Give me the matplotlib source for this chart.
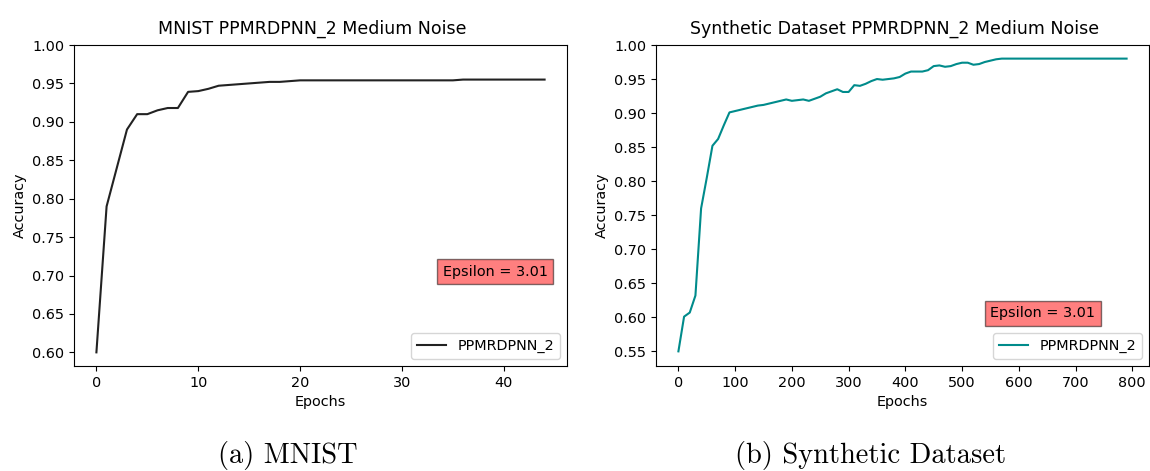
import matplotlib
matplotlib.use("Agg")
import matplotlib.pyplot as plt
from matplotlib.ticker import MultipleLocator, FormatStrFormatter
import numpy as np

# MNIST run, one value per epoch
mnist_epochs = list(range(45))
mnist_acc = [0.600, 0.790, 0.840, 0.890, 0.910, 0.910, 0.915, 0.918, 0.918, 0.939,
             0.940, 0.943, 0.947, 0.948, 0.949, 0.950, 0.951, 0.952, 0.952, 0.953,
             0.954, 0.954, 0.954, 0.954, 0.954, 0.954, 0.954, 0.954, 0.954, 0.954,
             0.954, 0.954, 0.954, 0.954, 0.954, 0.954, 0.955, 0.955, 0.955, 0.955,
             0.955, 0.955, 0.955, 0.955, 0.955]

# synthetic run, logged every 10 epochs
syn_epochs = list(range(0, 800, 10))
syn_acc = [0.550, 0.601, 0.607, 0.632, 0.760, 0.805, 0.852, 0.862, 0.882, 0.901,
           0.903, 0.905, 0.907, 0.909, 0.911, 0.912, 0.914, 0.916, 0.918, 0.920,
           0.918, 0.919, 0.920, 0.918, 0.921, 0.924, 0.929, 0.932, 0.935, 0.931,
           0.931, 0.941, 0.940, 0.943, 0.947, 0.950, 0.949, 0.950, 0.951, 0.953,
           0.958, 0.961, 0.961, 0.961, 0.963, 0.969, 0.970, 0.968, 0.969, 0.972,
           0.974, 0.974, 0.971, 0.972, 0.975, 0.977, 0.979, 0.980, 0.980, 0.980,
           0.980, 0.980, 0.980, 0.980, 0.980, 0.980, 0.980, 0.980, 0.980, 0.980,
           0.980, 0.980, 0.980, 0.980, 0.980, 0.980, 0.980, 0.980, 0.980, 0.980]

label = "PPMRDPNN_2"
eps_text = "Epsilon = 3.01"

W, H = 1150, 471
fig = plt.figure(figsize=(W / 100, H / 100), dpi=100)

fs = 10.4
ax1 = fig.add_axes([74 / W, 1 - 366 / H, 493 / W, 321 / H])
ax2 = fig.add_axes([656 / W, 1 - 366 / H, 493 / W, 321 / H])

ax1.plot(mnist_epochs, mnist_acc, color="#222222", linewidth=1.5, label=label)
ax1.set_ylim(top=1.0)
ax1.set_title("MNIST PPMRDPNN_2 Medium Noise", fontsize=12.5, x=0.483, pad=8)
ax1.text(34, 0.70, eps_text, fontsize=fs, bbox=dict(facecolor="red", alpha=0.5))

ax2.plot(syn_epochs, syn_acc, color="darkcyan", linewidth=1.5, label=label)
ax2.set_ylim(top=1.0)
ax2.set_title("Synthetic Dataset PPMRDPNN_2 Medium Noise", fontsize=12.5, x=0.483, pad=8)
ax2.text(550, 0.6, eps_text, fontsize=fs, bbox=dict(facecolor="red", alpha=0.5))

for ax in (ax1, ax2):
    ax.yaxis.set_major_locator(MultipleLocator(0.05))
    ax.yaxis.set_major_formatter(FormatStrFormatter("%.2f"))
    ax.set_xlabel("Epochs", fontsize=fs)
    ax.set_ylabel("Accuracy", fontsize=fs)
    ax.tick_params(labelsize=fs)
    ax.legend(loc="lower right", fontsize=fs)

fig.text(288 / W, 1 - 456 / H, "(a) MNIST", fontname="cmr10", fontsize=20.5,
         ha="center", va="center")
fig.text(871 / W, 1 - 456 / H, "(b) Synthetic Dataset", fontname="cmr10", fontsize=20.5,
         ha="center", va="center")

fig.savefig("out.png", dpi=100)
